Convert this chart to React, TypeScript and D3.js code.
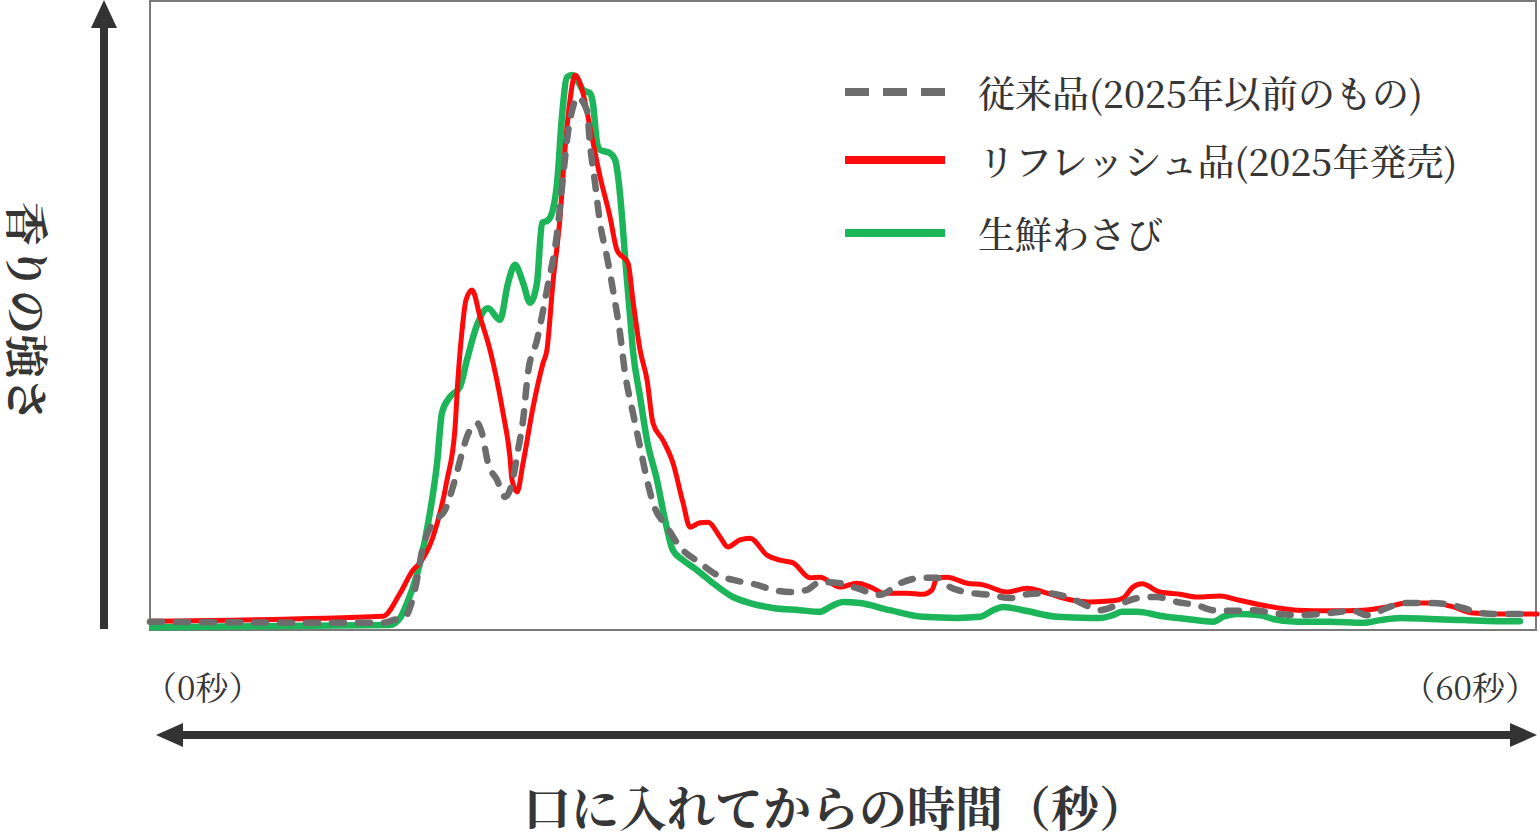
import React, { useEffect } from "react";
import * as d3 from "d3";

// time (seconds) of each sample
const legacyTime = [0, 10.08, 10.51, 11.03, 11.46, 11.81, 12.24, 12.76, 13.19, 13.5, 13.71, 14.15, 14.36, 14.62, 15.01, 15.36, 15.66, 15.92, 16.14, 16.35, 16.74, 17.17, 17.61, 17.87, 18.08, 18.3, 18.47, 18.9, 19.03, 19.25, 19.47, 19.77, 20.03, 20.33, 20.55, 20.89, 21.2, 21.5, 21.76, 22.37, 22.93, 23.79, 24.53, 25.22, 26.26, 26.95, 27.69, 28.42, 28.98, 29.85, 30.58, 31.58, 32.45, 33.44, 34.05, 34.61, 35.6, 36.34, 37.2, 37.94, 38.8, 39.67, 40.66, 41.1, 41.83, 42.74, 43.56, 44.43, 45.29, 45.99, 46.85, 47.72, 48.58, 49.62, 51.05, 52.04, 52.65, 53.51, 54.21, 55.24, 56.11, 56.8, 57.54, 58.4, 59.48];
const legacyValue = [1.5, 1.3, 1.8, 2.4, 7.3, 15.1, 19.5, 21.8, 27.3, 32.2, 35.1, 37.6, 35.8, 30.4, 27.3, 24.2, 26.7, 32.7, 38.2, 46.7, 52.7, 61.8, 72.2, 82.4, 90.4, 95.1, 96.9, 94.5, 88.5, 81.3, 74.0, 67.8, 61.8, 54.0, 46.7, 39.5, 33.3, 27.3, 23.1, 18.7, 15.1, 12.2, 10.0, 9.1, 8.2, 7.3, 6.9, 7.3, 8.7, 8.5, 7.6, 6.4, 8.5, 9.5, 9.5, 7.8, 6.7, 6.4, 5.8, 6.5, 6.7, 6.0, 4.2, 3.6, 4.5, 5.8, 6.0, 5.1, 4.5, 3.6, 3.5, 3.6, 3.1, 2.7, 3.1, 3.5, 2.7, 4.0, 4.9, 4.9, 4.7, 4.0, 3.1, 2.9, 2.9];

const refreshTime = [0, 10.08, 10.82, 11.38, 11.68, 12.24, 12.85, 13.19, 13.32, 13.5, 13.67, 13.93, 14.28, 14.71, 15.27, 15.57, 15.66, 15.88, 16.14, 16.57, 17.0, 17.17, 17.43, 17.74, 17.95, 18.17, 18.39, 18.73, 19.03, 19.47, 19.9, 20.2, 20.68, 20.89, 21.2, 21.5, 21.76, 22.19, 22.62, 23.06, 23.36, 23.79, 24.14, 24.66, 25.0, 25.52, 25.96, 26.69, 27.25, 27.82, 28.55, 28.98, 29.85, 30.58, 31.28, 31.71, 32.75, 33.44, 33.83, 34.05, 34.48, 35.34, 36.04, 37.07, 37.94, 38.8, 39.8, 40.66, 41.66, 42.09, 42.52, 42.91, 43.69, 44.56, 45.29, 46.29, 47.02, 48.15, 49.62, 51.05, 52.47, 53.51, 54.38, 55.5, 56.37, 57.23, 58.4, 60];
const refreshValue = [1.6, 2.5, 6.7, 10.9, 12.2, 16.9, 27.3, 36.4, 45.5, 54.5, 60.0, 61.8, 56.9, 50.9, 39.5, 31.5, 27.3, 25.1, 30.4, 40.5, 48.5, 50.9, 63.1, 75.1, 87.3, 96.4, 100.9, 97.6, 91.5, 82.4, 75.1, 69.1, 66.7, 60.0, 50.9, 45.5, 37.6, 34.5, 30.4, 23.1, 18.7, 19.5, 19.6, 16.9, 15.1, 16.4, 16.7, 13.6, 12.7, 12.2, 9.5, 9.6, 7.8, 8.5, 7.6, 6.7, 6.7, 6.5, 7.3, 9.5, 9.6, 8.5, 8.2, 6.9, 7.6, 6.7, 5.5, 5.1, 5.3, 5.8, 7.8, 8.4, 6.9, 6.5, 6.0, 6.2, 5.5, 4.5, 3.6, 3.5, 3.6, 4.2, 4.9, 4.9, 4.2, 3.1, 2.9, 2.9];

const freshTime = [0.1, 10.38, 10.82, 11.12, 11.68, 12.11, 12.42, 12.63, 12.98, 13.41, 13.71, 14.15, 14.62, 15.14, 15.49, 15.79, 16.14, 16.44, 16.74, 16.96, 17.22, 17.43, 17.61, 17.82, 18.04, 18.26, 18.47, 18.73, 19.03, 19.16, 19.34, 19.47, 19.9, 20.12, 20.25, 20.42, 20.55, 20.77, 20.89, 21.2, 21.5, 21.93, 22.28, 22.62, 23.06, 23.66, 24.36, 25.22, 25.96, 26.95, 28.12, 28.98, 29.42, 29.98, 30.71, 32.01, 33.44, 34.91, 35.91, 36.47, 36.9, 37.77, 39.24, 40.66, 41.1, 41.66, 42.05, 42.7, 43.82, 44.86, 45.99, 46.42, 47.02, 48.02, 48.58, 49.62, 51.05, 52.47, 53.21, 54.08, 55.37, 56.8, 58.27, 59.26];
const freshValue = [0.5, 0.9, 2.2, 4.9, 12.2, 21.3, 30.4, 39.5, 42.4, 44.2, 49.1, 55.5, 58.5, 56.4, 63.1, 66.4, 63.1, 59.5, 63.1, 74.0, 74.5, 76.4, 81.3, 93.3, 100.5, 100.9, 100.0, 98.2, 97.6, 95.8, 88.5, 87.3, 86.7, 85.5, 82.4, 75.1, 67.8, 56.9, 50.9, 42.4, 34.5, 27.3, 20.0, 14.5, 12.7, 10.9, 8.5, 6.0, 4.9, 4.0, 3.6, 3.3, 4.2, 5.1, 4.9, 3.6, 2.4, 2.2, 2.4, 3.6, 4.2, 3.6, 2.4, 2.2, 2.2, 2.7, 3.3, 3.3, 2.5, 2.0, 1.5, 2.4, 2.9, 2.7, 2.0, 1.5, 1.5, 1.3, 1.8, 2.2, 2.0, 1.8, 1.6, 1.6];

const seriesNames = ["従来品(2025年以前のもの)", "リフレッシュ品(2025年発売)", "生鮮わさび"];
const xTickLabels = ["（0秒）", "（60秒）"];
const xTitle = "口に入れてからの時間（秒）";
const yTitle = "香りの強さ";

const W = 1540;
const H = 838;
const FONT = "'Noto Serif CJK JP', 'Liberation Serif', 'Noto Sans CJK JP', serif";
const INK = "#363636";

export default function App() {
  useEffect(() => {
    document.body.style.margin = "0";
  }, []);

  const left = 150, right = 1536, top = 1, bottom = 630;
  const x = d3.scaleLinear().domain([0, 60]).range([left, right + 1]);
  const y = d3.scaleLinear().domain([0, 110]).range([bottom, bottom - 605]);

  const line = d3
    .line<[number, number]>()
    .x((d) => x(d[0]))
    .y((d) => y(d[1]))
    .curve(d3.curveMonotoneX);

  const zip = (a: number[], b: number[]) => a.map((t, i) => [t, b[i]] as [number, number]);

  const series = [
    { name: seriesNames[2], d: zip(freshTime, freshValue), color: "#1db55a", width: 6.5, dash: undefined as string | undefined, cap: "round" },
    { name: seriesNames[1], d: zip(refreshTime, refreshValue), color: "#ff0a0a", width: 5, dash: undefined, cap: "round" },
    { name: seriesNames[0], d: zip(legacyTime, legacyValue), color: "#6d6d6d", width: 6.5, dash: "12 14", cap: "round" },
  ];

  const legendItems = [
    { name: seriesNames[0], color: "#6d6d6d", dash: "24 14" },
    { name: seriesNames[1], color: "#ff0a0a", dash: undefined as string | undefined },
    { name: seriesNames[2], color: "#1db55a", dash: undefined },
  ];
  const legendY = [92, 160, 233];

  const ax = 104;
  const arrowY = 735;

  return (
    <svg width={W} height={H} style={{ display: "block", background: "#fff" }} fontFamily={FONT}>
      <rect x={left} y={top} width={right - left} height={bottom - top} fill="#fff" stroke="#7a7a7a" strokeWidth={2} />

      {series.map((s) => (
        <path
          key={s.name}
          d={line(s.d) || ""}
          fill="none"
          stroke={s.color}
          strokeWidth={s.width}
          strokeDasharray={s.dash}
          strokeLinecap={s.cap as any}
          strokeLinejoin="round"
        />
      ))}

      {/* legend */}
      {legendItems.map((it, i) => (
        <g key={it.name}>
          <line x1={845} x2={945} y1={legendY[i]} y2={legendY[i]} stroke={it.color} strokeWidth={8} strokeDasharray={it.dash} />
          <text x={978} y={legendY[i]} dominantBaseline="central" fontSize={37} fontWeight={500} fill={INK}>
            {it.name}
          </text>
        </g>
      ))}

      {/* y arrow */}
      <line x1={ax} x2={ax} y1={26} y2={629} stroke="#333" strokeWidth={8} />
      <path d={`M${ax},0 L${ax - 13},28 L${ax + 13},28 Z`} fill="#333" />
      <text
        transform={`translate(29,${312}) rotate(90)`}
        textAnchor="middle"
        dominantBaseline="central"
        fontSize={44}
        fontWeight="bold"
        fill={INK}
      >
        {yTitle}
      </text>

      {/* x arrow */}
      <line x1={182} x2={1511} y1={arrowY} y2={arrowY} stroke="#333" strokeWidth={8} />
      <path d={`M156,${arrowY} L183,${arrowY - 12} L183,${arrowY + 12} Z`} fill="#333" />
      <path d={`M1537,${arrowY} L1510,${arrowY - 12} L1510,${arrowY + 12} Z`} fill="#333" />

      <text x={x(0) - 6} y={700} fontSize={33} fill={INK} textAnchor="start">
        {xTickLabels[0]}
      </text>
      <text x={1538} y={700} fontSize={33} fill={INK} textAnchor="end">
        {xTickLabels[1]}
      </text>

      <text x={835} y={805} textAnchor="middle" dominantBaseline="central" fontSize={48} fontWeight="bold" fill={INK}>
        {xTitle}
      </text>
    </svg>
  );
}
